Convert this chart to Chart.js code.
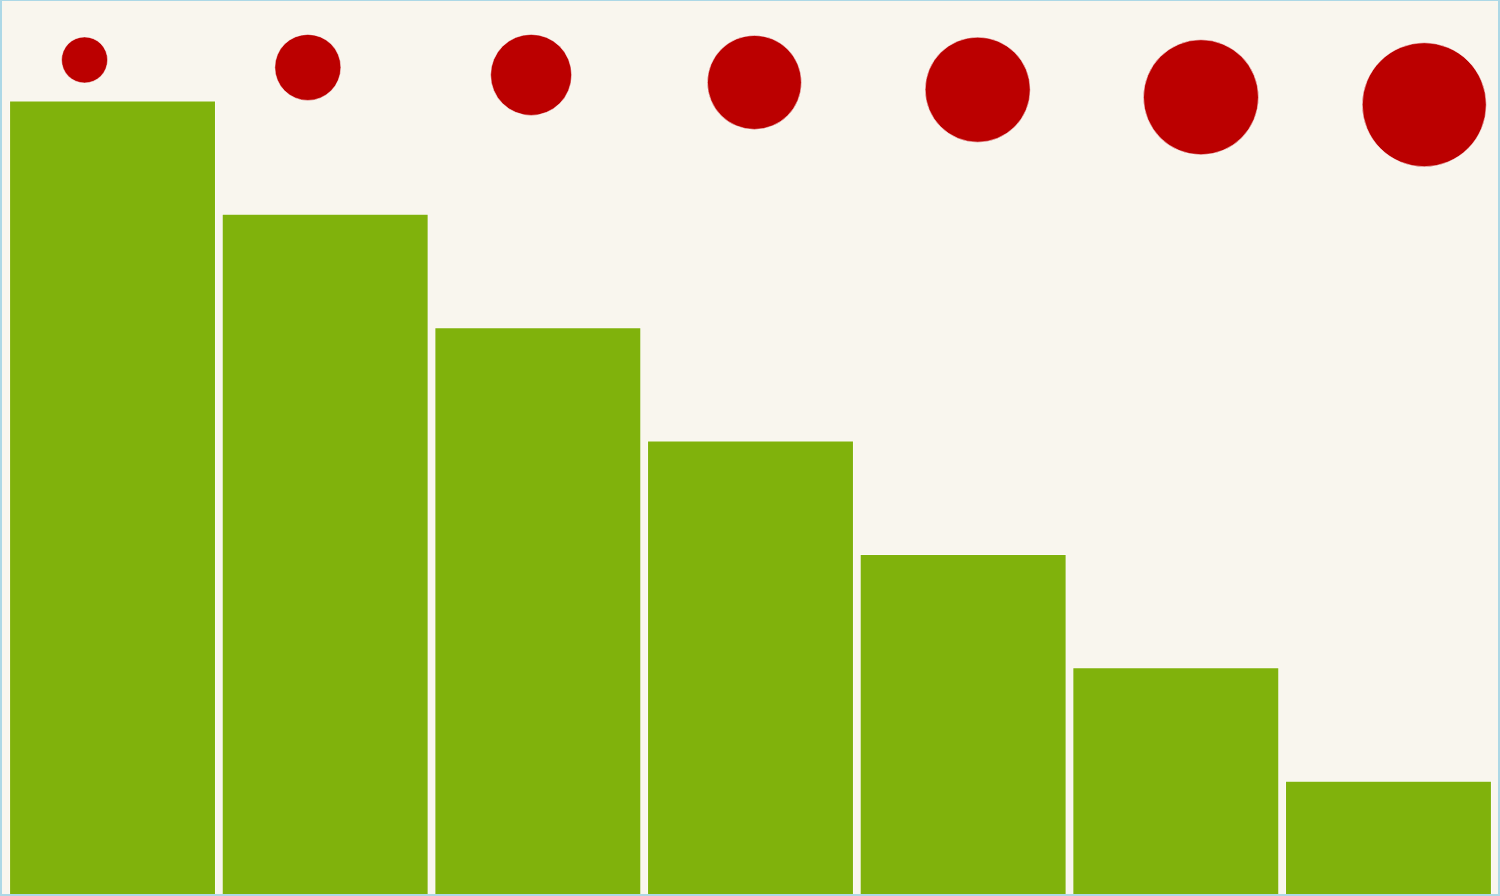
<!DOCTYPE html>
<html>
<head>
<meta charset="utf-8">
<script src="https://cdn.jsdelivr.net/npm/chart.js@4/dist/chart.umd.min.js"></script>
<style>
  html, body { margin: 0; padding: 0; background: #ffffff; }
  #wrap {
    width: 1500px; height: 896px; box-sizing: border-box;
    border-style: solid; border-color: #add8e6;
    border-width: 1px 2px 2px 2px;
    background: #f9f6ee; position: relative;
  }
  #box { position: absolute; left: 0; top: 0; right: 0; bottom: 0; }
</style>
</head>
<body>
<div id="wrap"><div id="box"><canvas id="c"></canvas></div></div>
<script>
// Categories and series values
const categories = ['1', '2', '3', '4', '5', '6', '7'];
const barValues = [7, 6, 5, 4, 3, 2, 1];

// Bubble series (x position, y value on the bar scale, radius in px)
const bubbleX = [1, 2, 3, 4, 5, 6, 7];
const bubbleY = [7.357, 7.291, 7.225, 7.159, 7.095, 7.028, 6.962];
const bubbleR = [23, 33, 40.5, 47, 52.5, 57.5, 62];

const bubbleData = bubbleX.map((x, i) => ({ x: x, y: bubbleY[i], r: bubbleR[i] }));

new Chart(document.getElementById('c'), {
  data: {
    labels: categories,
    datasets: [
      {
        type: 'bubble',
        data: bubbleData,
        xAxisID: 'x2',
        yAxisID: 'y',
        backgroundColor: '#bb0000',
        borderColor: 'rgba(255,255,255,0.5)',
        borderWidth: 1,
        clip: false,
        order: 0
      },
      {
        type: 'bar',
        data: barValues,
        xAxisID: 'x',
        yAxisID: 'y',
        backgroundColor: '#80b20c',
        borderColor: 'rgba(255,255,255,0.45)',
        borderWidth: 1,
        borderSkipped: 'bottom',
        grouped: false,
        barPercentage: 0.973,
        categoryPercentage: 1,
        order: 1
      }
    ]
  },
  options: {
    responsive: true,
    maintainAspectRatio: false,
    animation: false,
    layout: { autoPadding: false, padding: { left: 4.2, right: 3.2, top: 0, bottom: 0 } },
    plugins: { legend: { display: false }, tooltip: { enabled: false } },
    scales: {
      x: { type: 'category', display: false, offset: true },
      x2: { type: 'linear', display: false, min: 0.649, max: 7.316 },
      y: { type: 'linear', display: false, min: 0, max: 7.877 }
    }
  }
});
</script>
</body>
</html>
